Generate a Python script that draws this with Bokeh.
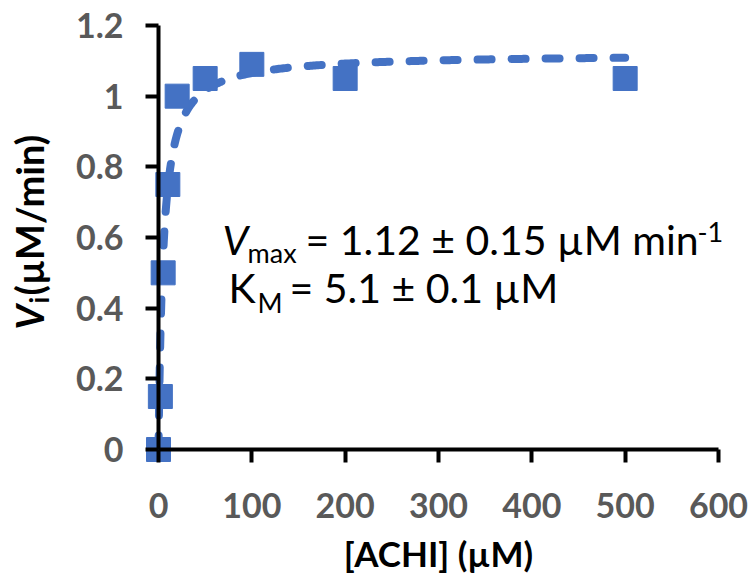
import numpy as np
from bokeh.plotting import figure
from bokeh.models import Range1d, Label, FixedTicker
from bokeh.embed import file_html
from bokeh.resources import INLINE

# Initial rate vs. substrate concentration
conc_uM = [0, 2, 5, 10, 20, 50, 100, 200, 500]
rate_uM_per_min = [0, 0.15, 0.50, 0.75, 1.00, 1.05, 1.09, 1.05, 1.05]

# Michaelis-Menten fit parameters
vmax = 1.12
km = 5.1

x_ticks = [0, 100, 200, 300, 400, 500, 600]
y_ticks = [0, 0.2, 0.4, 0.6, 0.8, 1.0, 1.2]
y_tick_text = ["0", "0.2", "0.4", "0.6", "0.8", "1", "1.2"]

BLUE = "#4472C4"
FONT = "Lato"

W, H = 754, 577
# pixel placement of the axes box (origin and far ends)
OX, OY = 158, 449
XEND_PX, YEND_PX = 718, 25
X_MAX, Y_MAX = 600, 1.2
sx = (XEND_PX - OX) / X_MAX
sy = (OY - YEND_PX) / Y_MAX


def px_x(px):
    return (px - OX) / sx


def px_y(py):
    return (OY - py) / sy


# the frame spans the whole canvas; the axes sit at fixed data locations so
# markers on the axes are not cut off
p = figure(width=W, height=H, output_backend="svg", toolbar_location=None,
           x_range=Range1d(px_x(0), px_x(W)), y_range=Range1d(px_y(H), px_y(0)),
           min_border=0)
p.outline_line_color = None
p.xgrid.visible = False
p.ygrid.visible = False
p.background_fill_color = "white"
p.border_fill_color = "white"

for ax in (p.xaxis, p.yaxis):
    ax.axis_line_width = 4
    ax.axis_line_color = "black"
    ax.major_tick_line_width = 4
    ax.major_tick_line_color = "black"
    ax.major_tick_out = 13
    ax.major_tick_in = 0
    ax.minor_tick_line_color = None
    ax.major_label_text_font = FONT
    ax.major_label_text_font_style = "bold"
    ax.major_label_text_font_size = "34px"
    ax.major_label_text_color = "#595959"
    ax.fixed_location = 0

p.xaxis.bounds = (0, X_MAX)
p.yaxis.bounds = (0, Y_MAX)
p.xaxis.ticker = FixedTicker(ticks=x_ticks)
p.yaxis.ticker = FixedTicker(ticks=y_ticks)
p.yaxis.major_label_overrides = {t: s for t, s in zip(y_ticks, y_tick_text)}
p.xaxis.major_label_standoff = 30
p.yaxis.major_label_standoff = 22

# fitted Michaelis-Menten curve
x_fit = np.concatenate([np.linspace(0, 20, 200), np.linspace(20, 500, 300)[1:]])
v_fit = vmax * x_fit / (km + x_fit)
p.line(x_fit, v_fit, line_color=BLUE, line_width=8, line_dash="14 20",
       line_cap="round")

# measured points
p.scatter(conc_uM, rate_uM_per_min, marker="square", size=24,
          fill_color=BLUE, line_color=BLUE)


def add_text(text, px, py, size, style="normal", angle=0, align="left"):
    # px, py: start of the text baseline in canvas pixels
    lift = 0.3 * size
    if angle:
        px -= lift
    else:
        py -= lift
    p.add_layout(Label(x=px_x(px), y=px_y(py), text=text, text_font=FONT,
                       text_font_size=f"{size}px", text_font_style=style,
                       text_color="black", angle=angle, text_align=align,
                       text_baseline="alphabetic"))


# fit parameter annotation
add_text("V", 222, 251, 41, "italic")
add_text("max", 247, 260, 27)
add_text("= 1.12 \u00b1 0.15 \u00b5M min", 305, 251, 41)
add_text("-1", 697, 240, 27)
add_text("K", 228, 299, 41)
add_text("M", 257, 310, 27)
add_text("= 5.1 \u00b1 0.1 \u00b5M", 289, 299, 41)

# axis titles
add_text("[ACHI] (\u00b5M)", 438, 563, 35, "bold", align="center")
add_text("V", 40, 329, 38, "bold italic", angle=np.pi / 2)
add_text("i", 46, 303, 26, "bold", angle=np.pi / 2)
add_text("(\u00b5M/min)", 40, 295, 38, "bold", angle=np.pi / 2)

open("out.html", "w").write(file_html(p, INLINE))
